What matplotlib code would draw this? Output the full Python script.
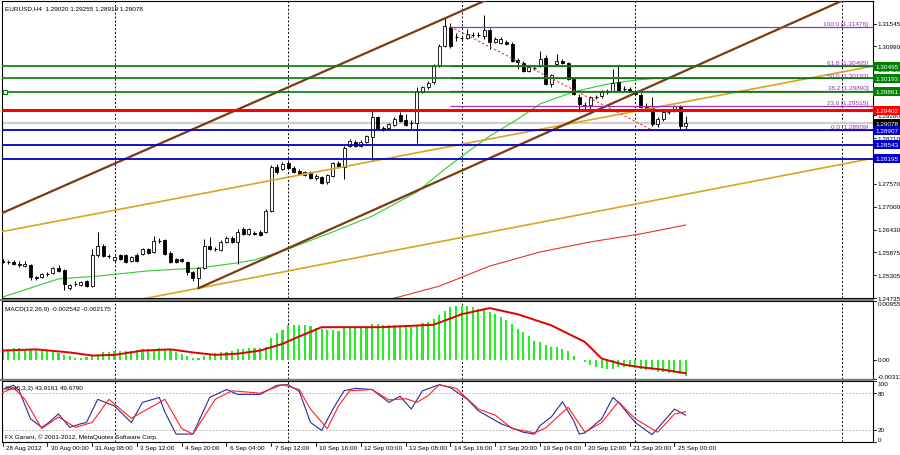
import numpy as np
import matplotlib
matplotlib.use("Agg")
import matplotlib.pyplot as plt
import matplotlib.transforms as mtransforms
from matplotlib.patches import Rectangle
from matplotlib.lines import Line2D

plt.rcParams["font.family"] = ["Liberation Sans", "DejaVu Sans"]
FS = 4.6
plt.rcParams["font.size"] = FS

# EURUSD H4 bars, 28 Aug 2012 .. 25 Sep 2012
opens = [
    1.2566, 1.2563, 1.2563, 1.2558, 1.2553, 1.2556, 1.2526, 1.2526, 1.2533, 1.2536,
    1.2548, 1.2543, 1.2498, 1.2508, 1.2506, 1.2516, 1.2503, 1.2580, 1.2603, 1.2578,
    1.2568, 1.2580, 1.2580, 1.2566, 1.2580, 1.2583, 1.2595, 1.2588, 1.2615, 1.2618,
    1.2585, 1.2571, 1.2571, 1.2563, 1.2538, 1.2523, 1.2548, 1.2603, 1.2595, 1.2593,
    1.2613, 1.2623, 1.2613, 1.2645, 1.2633, 1.2635, 1.2638, 1.2638, 1.2690, 1.2799,
    1.2794, 1.2809, 1.2797, 1.2789, 1.2779, 1.2787, 1.2772, 1.2774, 1.2762, 1.2777,
    1.2809, 1.2799, 1.2851, 1.2861, 1.2851, 1.2861, 1.2874, 1.2923, 1.2896, 1.2896,
    1.2904, 1.2928, 1.2916, 1.2909, 1.2909, 1.2986, 1.2998, 1.3010, 1.3050, 1.3100,
    1.3147, 1.3122, 1.3120, 1.3120, 1.3127, 1.3127, 1.3125, 1.3140, 1.3110, 1.3107,
    1.3110, 1.3105, 1.3065, 1.3058, 1.3038, 1.3045, 1.3050, 1.3070, 1.3005, 1.3055,
    1.3063, 1.3058, 1.3018, 1.2973, 1.2953, 1.2953, 1.2973, 1.2976, 1.2986, 1.2988,
    1.3010, 1.2993, 1.2993, 1.2988, 1.2978, 1.2948, 1.2946, 1.2906, 1.2918, 1.2936,
    1.2938, 1.2951, 1.29020]
highs = [
    1.2571, 1.2568, 1.2568, 1.2566, 1.2566, 1.2558, 1.2528, 1.2536, 1.2538, 1.2551,
    1.2556, 1.2546, 1.2508, 1.2516, 1.2516, 1.2518, 1.2595, 1.2638, 1.2608, 1.2583,
    1.2578, 1.2583, 1.2583, 1.2578, 1.2585, 1.2598, 1.2598, 1.2628, 1.2623, 1.2620,
    1.2590, 1.2573, 1.2573, 1.2566, 1.2541, 1.2551, 1.2620, 1.2625, 1.2600, 1.2618,
    1.2628, 1.2628, 1.2645, 1.2650, 1.2648, 1.2640, 1.2643, 1.2695, 1.2804, 1.2807,
    1.2812, 1.2814, 1.2802, 1.2794, 1.2789, 1.2789, 1.2782, 1.2777, 1.2782, 1.2812,
    1.2814, 1.2851, 1.2869, 1.2866, 1.2866, 1.2879, 1.2943, 1.2926, 1.2901, 1.2909,
    1.2923, 1.2936, 1.2931, 1.2916, 1.2998, 1.3000, 1.3013, 1.3055, 1.3105, 1.3172,
    1.3157, 1.3132, 1.3127, 1.3142, 1.3135, 1.3135, 1.3177, 1.3145, 1.3122, 1.3122,
    1.3115, 1.3110, 1.3070, 1.3063, 1.3050, 1.3050, 1.3087, 1.3077, 1.3030, 1.3080,
    1.3068, 1.3060, 1.3023, 1.2980, 1.2961, 1.2976, 1.2978, 1.2990, 1.2993, 1.3043,
    1.3053, 1.3000, 1.2998, 1.2991, 1.2983, 1.2958, 1.2973, 1.2923, 1.2938, 1.2941,
    1.2953, 1.2953, 1.29255]
lows = [
    1.2561, 1.2558, 1.2556, 1.2551, 1.2551, 1.2518, 1.2518, 1.2523, 1.2528, 1.2533,
    1.2538, 1.2494, 1.2494, 1.2503, 1.2503, 1.2501, 1.2501, 1.2576, 1.2576, 1.2573,
    1.2563, 1.2568, 1.2561, 1.2563, 1.2563, 1.2580, 1.2583, 1.2585, 1.2610, 1.2580,
    1.2561, 1.2561, 1.2563, 1.2531, 1.2516, 1.2498, 1.2546, 1.2593, 1.2590, 1.2590,
    1.2610, 1.2610, 1.2558, 1.2630, 1.2630, 1.2630, 1.2628, 1.2635, 1.2687, 1.2782,
    1.2792, 1.2794, 1.2784, 1.2779, 1.2777, 1.2769, 1.2767, 1.2757, 1.2757, 1.2774,
    1.2797, 1.2769, 1.2849, 1.2849, 1.2849, 1.2859, 1.2814, 1.2891, 1.2889, 1.2894,
    1.2901, 1.2911, 1.2901, 1.2891, 1.2859, 1.2983, 1.2993, 1.3005, 1.3048, 1.3097,
    1.3095, 1.3112, 1.3115, 1.3117, 1.3122, 1.3122, 1.3117, 1.3092, 1.3107, 1.3105,
    1.3102, 1.3060, 1.3043, 1.3035, 1.3035, 1.3040, 1.3048, 1.3003, 1.2998, 1.3050,
    1.3055, 1.3015, 1.2978, 1.2936, 1.2943, 1.2931, 1.2968, 1.2971, 1.2981, 1.2986,
    1.2986, 1.2988, 1.2986, 1.2978, 1.2946, 1.2941, 1.2901, 1.2899, 1.2913, 1.2931,
    1.2936, 1.2894, 1.28919]
closes = [
    1.2563, 1.2563, 1.2558, 1.2556, 1.2558, 1.2526, 1.2523, 1.2533, 1.2533, 1.2548,
    1.2541, 1.2508, 1.2506, 1.2508, 1.2513, 1.2503, 1.2580, 1.2603, 1.2578, 1.2578,
    1.2576, 1.2571, 1.2563, 1.2576, 1.2566, 1.2595, 1.2585, 1.2615, 1.2615, 1.2583,
    1.2563, 1.2563, 1.2566, 1.2538, 1.2523, 1.2548, 1.2603, 1.2595, 1.2595, 1.2613,
    1.2623, 1.2613, 1.2638, 1.2633, 1.2645, 1.2633, 1.2630, 1.2690, 1.2799, 1.2787,
    1.2807, 1.2797, 1.2787, 1.2782, 1.2787, 1.2772, 1.2777, 1.2759, 1.2779, 1.2809,
    1.2799, 1.2846, 1.2864, 1.2851, 1.2861, 1.2876, 1.2923, 1.2894, 1.2894, 1.2906,
    1.2918, 1.2913, 1.2904, 1.2909, 1.2988, 1.2998, 1.3008, 1.3050, 1.3100, 1.3150,
    1.3100, 1.3122, 1.3120, 1.3130, 1.3127, 1.3127, 1.3140, 1.3110, 1.3117, 1.3117,
    1.3105, 1.3063, 1.3060, 1.3038, 1.3048, 1.3045, 1.3068, 1.3005, 1.3028, 1.3063,
    1.3058, 1.3018, 1.2980, 1.2956, 1.2951, 1.2973, 1.2973, 1.2986, 1.2988, 1.3008,
    1.2988, 1.2993, 1.2988, 1.2980, 1.2948, 1.2946, 1.2906, 1.2918, 1.2936, 1.2936,
    1.2951, 1.2902, 1.29078]

# moving averages (bar index, price)
ma_green_idx = [0, 10, 17, 26, 35, 42, 45, 51, 59, 66, 74, 79, 83, 87, 92, 96, 102, 108, 113, 117]
ma_green_val = [1.2476, 1.2521, 1.2528, 1.2541, 1.2548, 1.2561, 1.2568, 1.2595, 1.2638, 1.2677,
                1.2737, 1.2794, 1.2836, 1.2876, 1.2918, 1.2956, 1.2986, 1.3005, 1.3015, 1.3020]
ma_red_idx = [68, 78, 87, 96, 105, 114, 122]
ma_red_val = [1.2466, 1.2503, 1.2553, 1.2588, 1.2613, 1.2633, 1.2655]

# horizontal levels
green_levels = [1.30495, 1.30193, 1.29861]
red_levels = [1.29402]
blue_levels = [1.28907, 1.28543, 1.28195]
bid = 1.29078

# trend lines: (bar1, price1, bar2, price2, ray_only)
brown_lines = [(0, 1.26851, 50, 1.29911, False), (35, 1.2498, 100, 1.2902, True)]
orange_lines = [(0, 1.26388, 100, 1.29032, False), (35, 1.2498, 100, 1.26722, False)]

# fibonacci retracement
fib_anchor = (80, 1.31476, 116, 1.28909)
fib_names = ["100.0", "61.8", "50.0", "38.2", "23.6", "0.0"]
fib_prices = [1.31476, 1.30495, 1.30193, 1.29890, 1.29515, 1.28909]

price_ticks = [1.31545, 1.30990, 1.30420, 1.29850, 1.29280, 1.28710, 1.28140,
               1.27570, 1.27000, 1.26430, 1.25875, 1.25305, 1.24735]

# MACD(12,26,9)
macd_hist = [
    0.0018, 0.0018, 0.0019, 0.0019, 0.0018, 0.0018, 0.0017, 0.0015, 0.0015, 0.0013,
    0.0011, 0.0008, 0.0006, 0.0003, 0.0003, 0.0004, 0.0006, 0.0008, 0.0012, 0.0013,
    0.0015, 0.0015, 0.0015, 0.0015, 0.0016, 0.0017, 0.0018, 0.0018, 0.0019, 0.0018,
    0.0017, 0.0012, 0.0010, 0.0007, 0.0003, 0.0003, 0.0006, 0.0008, 0.0011, 0.0013,
    0.0013, 0.0015, 0.0017, 0.0018, 0.0019, 0.0019, 0.0019, 0.0021, 0.0035, 0.0044,
    0.0049, 0.0056, 0.0057, 0.0057, 0.0057, 0.0055, 0.0051, 0.0050, 0.0049, 0.0049,
    0.0047, 0.0051, 0.0053, 0.0053, 0.0053, 0.0054, 0.0058, 0.0058, 0.0057, 0.0057,
    0.0057, 0.0056, 0.0056, 0.0053, 0.0057, 0.0060, 0.0062, 0.0066, 0.0072, 0.0080,
    0.0085, 0.0088, 0.0088, 0.0087, 0.0085, 0.0083, 0.0081, 0.0078, 0.0074, 0.0069,
    0.0065, 0.0058, 0.0050, 0.0045, 0.0038, 0.0031, 0.0029, 0.0024, 0.0021, 0.0021,
    0.0018, 0.0015, 0.0007, 0.0000, -0.0004, -0.0009, -0.0012, -0.0013, -0.0015, -0.0015,
    -0.0012, -0.0012, -0.0012, -0.0013, -0.0015, -0.0016, -0.0017, -0.0019, -0.0020, -0.0021,
    -0.0021, -0.0023, -0.002542]
macd_sig_idx = [0, 6, 12, 16, 20, 25, 30, 34, 38, 42, 46, 50, 53, 57, 60, 68, 77, 82, 87,
                92, 98, 104, 107, 111, 114, 118, 122]
macd_sig_val = [0.0015, 0.0017, 0.0012, 0.0007, 0.0008, 0.0015, 0.0017, 0.0012, 0.0008, 0.0010,
                0.0015, 0.0026, 0.0038, 0.0053, 0.0053, 0.0053, 0.0057, 0.0074, 0.0084, 0.0074,
                0.0056, 0.0029, 0.0002, -0.0008, -0.0012, -0.0016, -0.002175]

# Stochastic(5,3,3)
sto_k_idx = [0, 2, 3, 5, 7, 8, 10, 12, 14, 15, 17, 20, 23, 25, 28, 29, 31, 34, 37, 40,
             42, 46, 49, 51, 53, 55, 57, 59, 61, 63, 66, 69, 71, 73, 75, 78, 80, 83, 85, 89,
             93, 95, 96, 98, 100, 102, 103, 104, 107, 109, 110, 113, 116, 120, 122]
sto_k_val = [86, 93, 84, 38, 24, 30, 46, 24, 30, 32, 70, 59, 32, 65, 73, 49, 13, 13, 73, 86,
             78, 78, 93, 94, 83, 32, 19, 54, 84, 88, 86, 65, 75, 54, 84, 94, 89, 70, 51, 30,
             16, 13, 27, 41, 66, 35, 13, 15, 38, 73, 65, 32, 12, 54, 43.9161]
sto_d_idx = [0, 2, 4, 7, 10, 13, 16, 19, 23, 29, 32, 34, 38, 41, 46, 50, 53, 55, 58, 60,
             62, 66, 69, 72, 74, 76, 78, 81, 85, 88, 91, 95, 97, 101, 104, 107, 110, 113, 117, 120,
             122]
sto_d_val = [81, 89, 70, 22, 41, 24, 32, 70, 39, 70, 22, 13, 70, 84, 80, 94, 86, 54, 22, 59,
             84, 86, 69, 71, 65, 76, 94, 88, 54, 44, 22, 15, 23, 57, 16, 32, 66, 38, 16, 46,
             49.679]

time_labels = ["28 Aug 2012", "30 Aug 00:00", "31 Aug 08:00", "3 Sep 12:00", "4 Sep 20:00",
               "6 Sep 04:00", "7 Sep 12:00", "10 Sep 16:00", "12 Sep 00:00", "13 Sep 08:00",
               "14 Sep 16:00", "17 Sep 20:00", "19 Sep 04:00", "20 Sep 12:00", "21 Sep 20:00",
               "25 Sep 00:00"]
label_step = 8
grid_idx = [20, 51, 82, 113, 150]

GREEN, RED, BLUE = "#008000", "#FF0000", "#0000C0"
BROWN, ORANGE, PURPLE = "#7B3A12", "#DAA520", "#9B30B0"
X0, X1 = -0.09, 155.45

fig = plt.figure(figsize=(9, 4.56), dpi=100)
L, W = 2 / 900, 871 / 900
ax = fig.add_axes([L, 1 - 299 / 456, W, 297 / 456])
ax_macd = fig.add_axes([L, 1 - 380 / 456, W, 78 / 456])
ax_sto = fig.add_axes([L, 1 - 443 / 456, W, 61 / 456])

for a in (ax, ax_macd, ax_sto):
    a.set_xlim(X0, X1)
    a.set_xticks([])
    a.set_yticks([])
    for s in a.spines.values():
        s.set_linewidth(0.8)
        s.set_color("black")
    for g in grid_idx:
        a.axvline(g, color="black", lw=0.7, ls=(0, (2, 2)), zorder=1)


def right_label(a, y, s, fc=None, va="center"):
    tr = a.get_yaxis_transform()
    a.plot([1.0, 1.004], [y, y], transform=tr, clip_on=False, color="black", lw=0.6)
    if fc:
        a.text(1.0025, y, s, transform=tr, fontsize=FS, color="white", va=va, ha="left",
               clip_on=False, zorder=10,
               bbox=dict(boxstyle="square,pad=0.3", fc=fc, ec="none"))
    else:
        a.text(1.005, y, s, transform=tr, fontsize=FS, color="black", va=va, ha="left",
               clip_on=False, zorder=5)


# ---------- main price chart ----------
ax.set_ylim(1.24736, 1.32116)
ax.axhline(bid, color="#CFCFCF", lw=1.6, zorder=1.5)

ax.plot(ma_green_idx, ma_green_val, color="#30CC30", lw=0.8, zorder=2)
ax.plot(ma_red_idx, ma_red_val, color="#E03434", lw=0.8, zorder=2)

idx = np.arange(len(closes))
bw = 0.55
ax.vlines(idx, lows, highs, color="black", lw=0.7, zorder=3)
for i, o, c in zip(idx, opens, closes):
    if abs(c - o) < 0.00005:
        ax.hlines(c, i - bw / 2, i + bw / 2, color="black", lw=0.8, zorder=4)
    else:
        ax.add_patch(Rectangle((i - bw / 2, min(o, c)), bw, abs(c - o),
                               fc="white" if c > o else "black", ec="black", lw=0.6, zorder=4))


def trend(a, spec, color, lw):
    b1, p1, b2, p2, ray = spec
    k = (p2 - p1) / (b2 - b1)
    xa = b1 if ray else X0 - 5
    xb = X1 + 5
    a.plot([xa, xb], [p1 + k * (xa - b1), p1 + k * (xb - b1)], color=color, lw=lw, zorder=5)


for spec in orange_lines:
    trend(ax, spec, ORANGE, 1.2)
for spec in brown_lines:
    trend(ax, spec, BROWN, 1.6)

# fibonacci
ax.plot([fib_anchor[0], fib_anchor[2]], [fib_anchor[1], fib_anchor[3]],
        color="#FF3030", lw=0.8, ls=(0, (2, 2)), zorder=5)
tr = ax.get_yaxis_transform()
for name, p in zip(fib_names, fib_prices):
    ax.hlines(p, fib_anchor[0], X1, color=PURPLE, lw=0.9, zorder=5)
    ax.annotate(f"{name} [{p:.5f}]", xy=(0.9945, p), xycoords=tr, xytext=(0, 0.6),
                textcoords="offset points", ha="right", va="bottom", fontsize=FS,
                color=PURPLE, zorder=7)

for p in green_levels:
    ax.axhline(p, color=GREEN, lw=1.2, zorder=6)
for p in red_levels:
    ax.axhline(p, color=RED, lw=2.2, zorder=6)
for p in blue_levels:
    ax.axhline(p, color=BLUE, lw=1.3, zorder=6)
ax.plot([0.003], [green_levels[2]], transform=tr, marker="s", ms=2.6, mfc="white",
        mec=GREEN, mew=0.8, zorder=8, clip_on=False)

boxed = green_levels + red_levels + blue_levels + [bid]
for p in price_ticks:
    # scale values that sit right under a coloured price box are hidden, as in the terminal
    if min(abs(p - b) for b in boxed) < 0.0006:
        continue
    right_label(ax, p, f"{p:.5f}")
for p in green_levels:
    right_label(ax, p, f"{p:.5f}", fc=GREEN)
for p in red_levels:
    right_label(ax, p, f"{p:.5f}", fc=RED)
right_label(ax, bid, f"{bid:.5f}", fc="black")
for p in blue_levels:
    right_label(ax, p, f"{p:.5f}", fc=BLUE)

ax.text(0.004, 0.985, "EURUSD,H4  1.29020 1.29255 1.28919 1.29078", transform=ax.transAxes,
        va="top", ha="left", fontsize=FS, zorder=10)

# ---------- MACD ----------
ax_macd.set_ylim(-0.00311, 0.00955)
ax_macd.bar(np.arange(len(macd_hist)), macd_hist, width=0.36, color="#22EE22", lw=0, zorder=2)
ax_macd.plot(macd_sig_idx, macd_sig_val, color="#E00000", lw=1.4, zorder=3)
right_label(ax_macd, 0.00955, "0.00955", va="top")
right_label(ax_macd, 0.0, "0.00")
right_label(ax_macd, -0.00311, "-0.00311", va="bottom")
ax_macd.text(0.004, 0.9, "MACD(12,26,9) -0.002542 -0.002175", transform=ax_macd.transAxes,
             va="center", ha="left", fontsize=FS)

# ---------- Stochastic ----------
ax_sto.set_ylim(0, 100)
for lv in (80, 20):
    ax_sto.axhline(lv, color="#A8A8A8", lw=0.6, ls=(0, (2, 2)), zorder=1)
ax_sto.plot(sto_k_idx, sto_k_val, color="#2A2A9A", lw=0.8, zorder=3)
ax_sto.plot(sto_d_idx, sto_d_val, color="#FF2020", lw=0.8, zorder=3)
right_label(ax_sto, 100, "100", va="top")
right_label(ax_sto, 80, "80")
right_label(ax_sto, 20, "20")
right_label(ax_sto, 0, "0", va="bottom")
ax_sto.text(0.004, 0.9, "Sto(5,3,3) 43.9161 49.6790", transform=ax_sto.transAxes,
            va="center", ha="left", fontsize=FS)
ax_sto.text(0.003, 0.1, "FX Garant, \u00a9 2001-2012, MetaQuotes Software Corp.",
            transform=ax_sto.transAxes, va="center", ha="left", fontsize=FS)

btr = mtransforms.blended_transform_factory(ax_sto.transData, ax_sto.transAxes)
for k, lab in enumerate(time_labels):
    xi = k * label_step
    ax_sto.plot([xi, xi], [0, -0.07], transform=btr, clip_on=False, color="black", lw=0.6)
    ax_sto.text(xi + 0.6, -0.05, lab, transform=btr, va="top", ha="left", fontsize=FS,
                clip_on=False)

# panel separators
for yp in (300.5, 381):
    fig.add_artist(Line2D([0, 873 / 900], [1 - yp / 456] * 2, color="#7A7A7A", lw=1.6,
                          transform=fig.transFigure))

fig.savefig("out.png", dpi=100)
